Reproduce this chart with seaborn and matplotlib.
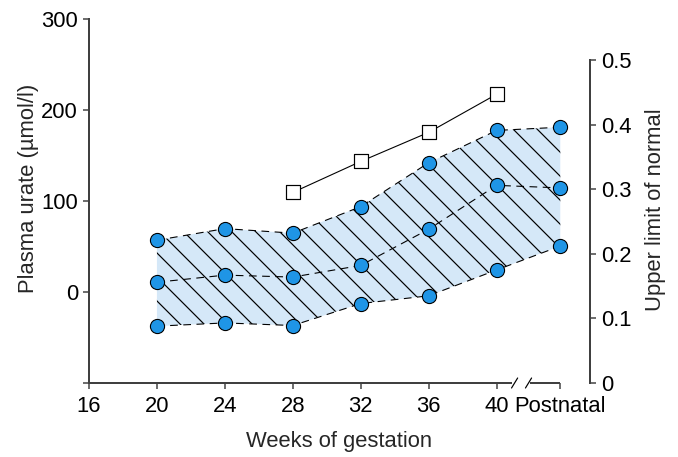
import numpy as np
import pandas as pd
import matplotlib
matplotlib.use('Agg')
import matplotlib.pyplot as plt
import seaborn as sns

# Values (right axis, upper limit of normal)
x_pos = [20, 24, 28, 32, 36, 40, 43.75]
x_ticks = [16, 20, 24, 28, 32, 36, 40, 43.75]
x_labels = ['16', '20', '24', '28', '32', '36', '40', 'Postnatal']
upper = [0.221, 0.239, 0.232, 0.273, 0.341, 0.391, 0.396]
median = [0.156, 0.167, 0.164, 0.182, 0.238, 0.306, 0.302]
lower = [0.088, 0.093, 0.089, 0.123, 0.135, 0.175, 0.212]
square_x = [28, 32, 36, 40]
square_y = [0.295, 0.343, 0.388, 0.447]

df = pd.DataFrame({'x': x_pos, 'upper': upper, 'median': median, 'lower': lower})
sq = pd.DataFrame({'x': square_x, 'y': square_y})

sns.set_style('ticks')
plt.rcParams['font.family'] = ['Liberation Sans', 'DejaVu Sans']
plt.rcParams['hatch.linewidth'] = 1.2

spine_col = '#404040'
blue = '#1f95e6'
fill_col = '#d5e8f8'
fs = 22

fig = plt.figure(figsize=(678 / 72, 457 / 72), dpi=72)
ax = fig.add_axes([89 / 678, 74 / 457, 501 / 678, 364 / 457])
ax2 = ax.twinx()

# Shaded, hatched band
ax2.fill_between(df['x'], df['lower'], df['upper'], facecolor=fill_col,
                 edgecolor='black', hatch='\\', linewidth=0, zorder=1)

# Dashed boundary lines and median
for col in ['upper', 'median', 'lower']:
    sns.lineplot(data=df, x='x', y=col, ax=ax2, color='black', lw=1.1,
                 dashes=False, linestyle=(0, (7, 5)), zorder=2, legend=False)
    sns.scatterplot(data=df, x='x', y=col, ax=ax2, color=blue, s=200,
                    edgecolor='black', linewidth=1.1, zorder=4, legend=False)

# Open squares
sns.lineplot(data=sq, x='x', y='y', ax=ax2, color='black', lw=1.1, zorder=3)
sns.scatterplot(data=sq, x='x', y='y', ax=ax2, marker='s', color='white', s=190,
                edgecolor='black', linewidth=1.2, zorder=4, legend=False)

# Left axis
ax.set_xlim(16, 45.5)
ax.set_ylim(-100, 300)
ax.set_yticks([-100, 0, 100, 200, 300])
ax.set_yticklabels(['', '0', '100', '200', '300'])
ax.set_xticks(x_ticks)
ax.set_xticklabels(x_labels)
ax.spines['top'].set_visible(False)
ax.spines['right'].set_visible(False)
ax.spines['left'].set_bounds(-100, 300)
ax.spines['bottom'].set_bounds(16, 40.82)
for s in ['left', 'bottom']:
    ax.spines[s].set_color(spine_col)
    ax.spines[s].set_linewidth(2)
ax.tick_params(axis='both', direction='out', length=6, width=1.5, color=spine_col,
               labelsize=fs, labelcolor='black')
ax.tick_params(axis='x', pad=7)
ax.tick_params(axis='y', pad=5)
ax.set_xlabel('Weeks of gestation', fontsize=fs)
ax.set_ylabel('Plasma urate (µmol/l)', fontsize=fs)
ax.xaxis.set_label_coords(0.5, -0.132)
ax.yaxis.set_label_coords(-0.1, 0.536)

# Axis break on bottom axis
ax.plot([41.94, 43.75], [-100, -100], color=spine_col, lw=2, clip_on=False,
        solid_capstyle='butt')
for x0 in [40.88, 41.70]:
    ax.plot([x0, x0 + 0.36], [-105.5, -94.5], color='black', lw=1.2, clip_on=False)

# Right axis
ax2.set_ylim(0, 0.5635)
ax2.set_yticks([0, 0.1, 0.2, 0.3, 0.4, 0.5])
ax2.set_yticklabels(['0', '0.1', '0.2', '0.3', '0.4', '0.5'])
for s in ['top', 'left', 'bottom']:
    ax2.spines[s].set_visible(False)
ax2.spines['right'].set_bounds(0, 0.5)
ax2.spines['right'].set_color(spine_col)
ax2.spines['right'].set_linewidth(2)
ax2.tick_params(axis='y', direction='out', length=6, width=1.5, color=spine_col,
                labelsize=fs, pad=5, labelcolor='black')
ax2.set_xlabel('')
ax2.set_ylabel('Upper limit of normal', fontsize=fs)
ax2.yaxis.set_label_coords(1.11, 0.475)

fig.savefig('out.png', dpi=72)
